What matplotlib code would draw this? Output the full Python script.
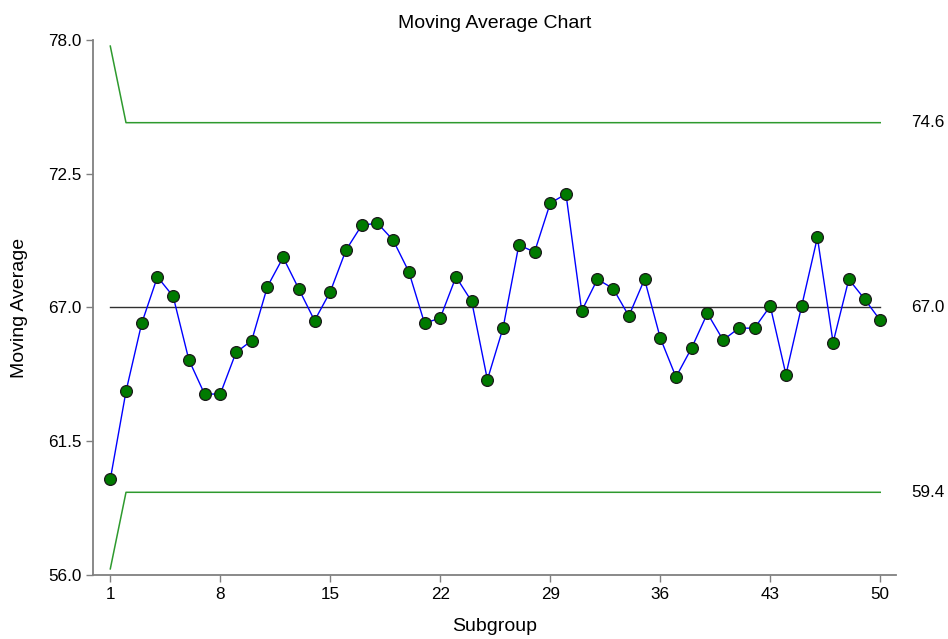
import numpy as np
import matplotlib.pyplot as plt
from matplotlib import transforms

plt.rcParams['font.family'] = ['Liberation Sans', 'DejaVu Sans']

subgroup = np.arange(1, 51)
moving_avg = [59.93, 63.55, 66.35, 68.26, 67.46, 64.85, 63.44, 63.44, 65.15, 65.64,
              67.86, 69.06, 67.76, 66.46, 67.65, 69.36, 70.38, 70.47, 69.77, 68.47,
              66.35, 66.57, 68.26, 67.25, 64.03, 66.17, 69.57, 69.28, 71.29, 71.67,
              66.86, 68.16, 67.78, 66.65, 68.16, 65.75, 64.14, 65.34, 66.76, 65.66,
              66.15, 66.15, 67.06, 64.24, 67.06, 69.88, 65.56, 68.16, 67.35, 66.47]
center = 67.0
ucl = [77.75] + [74.6] * 49
lcl = [56.25] + [59.4] * 49
xticks = [1, 8, 15, 22, 29, 36, 43, 50]
yticks = [56.0, 61.5, 67.0, 72.5, 78.0]

fig = plt.figure(figsize=(9.48, 6.39), dpi=100)
ax = fig.add_axes([0.0981, 0.1002, 0.8470, 0.8372])

ax.plot(subgroup, ucl, color='#2e9a2e', lw=1.1, zorder=2)
ax.plot(subgroup, lcl, color='#2e9a2e', lw=1.1, zorder=2)
ax.plot([subgroup[0], subgroup[-1]], [center, center], color='#303030', lw=1.0, zorder=2)
ax.plot(subgroup, moving_avg, color='#0000ff', lw=1.0, zorder=3,
        marker='o', markersize=8.5, markerfacecolor='#007a00',
        markeredgecolor='#1a1a1a', markeredgewidth=0.9)

trans = transforms.blended_transform_factory(ax.transAxes, ax.transData)
for v in [ucl[-1], center, lcl[-1]]:
    ax.text(1.019, v, f'{v:.1f}', transform=trans, ha='left', va='center',
            fontsize=12.3, clip_on=False)

ax.set_xlim(-0.1, 51.0)
ax.set_ylim(56.0, 78.0)
ax.set_xticks(xticks)
ax.set_yticks(yticks)
ax.set_yticklabels([f'{v:.1f}' for v in yticks])

for side in ['top', 'right']:
    ax.spines[side].set_visible(False)
for side in ['left', 'bottom']:
    ax.spines[side].set_color('#808080')
    ax.spines[side].set_linewidth(1.3)
ax.tick_params(axis='both', direction='out', length=5, width=1, color='#808080',
               labelsize=12.3, labelcolor='black')

ax.set_title('Moving Average Chart', fontsize=14, pad=9)
ax.set_xlabel('Subgroup', fontsize=14, labelpad=12)
ax.set_ylabel('Moving Average', fontsize=14, labelpad=14)

fig.savefig('out.png', dpi=100)
